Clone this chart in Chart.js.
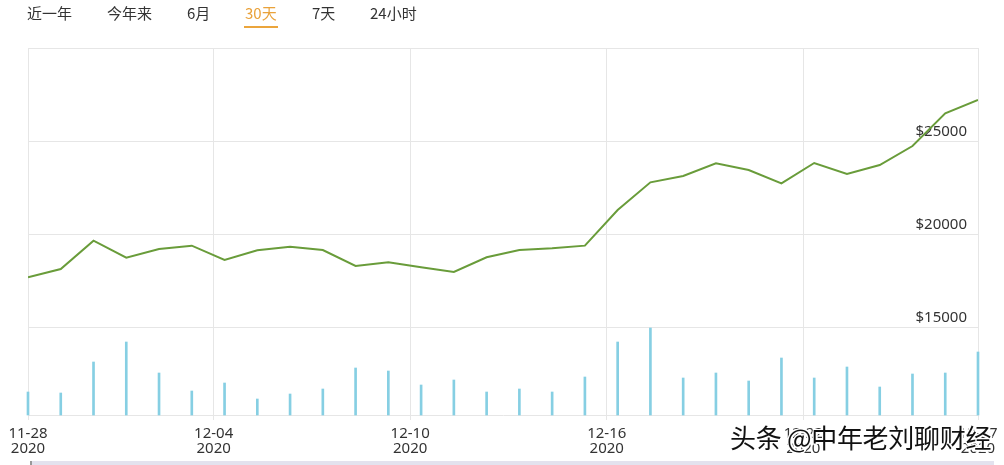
<!DOCTYPE html>
<html>
<head>
<meta charset="utf-8">
<script src="https://cdn.jsdelivr.net/npm/chart.js@4.4.1/dist/chart.umd.min.js"></script>
<style>
  html, body { margin: 0; padding: 0; background: #fff; }
  #wrap { position: relative; width: 1004px; height: 465px; overflow: hidden; font-family: "Noto Sans CJK SC", "Noto Sans", sans-serif; }
  canvas { position: absolute; left: 0; top: 0; }
  .tab { position: absolute; top: 3px; font-size: 15px; color: #333; line-height: 20px; white-space: nowrap; }
  .tab.active { color: #e9a23b; }
  #uline { position: absolute; left: 244px; top: 26px; width: 34px; height: 2px; background: #eba53c; }
  #scroll { position: absolute; left: 30px; top: 461px; width: 962px; height: 4px; background: #e3e2ee; border-left: 2px solid #999; }
  #wm { position: absolute; left: 730px; top: 423px; font-size: 26px; line-height: 28px; color: #111; white-space: nowrap; letter-spacing: -0.3px;
        text-shadow: -1px -1px 0 #fff, 1px -1px 0 #fff, -1px 1px 0 #fff, 1px 1px 0 #fff, 0 2px 0 #fff, 2px 0 0 #fff; }
</style>
</head>
<body>
<div id="wrap">
  <canvas id="c" width="1004" height="465"></canvas>
  <span class="tab" style="left:27px">近一年</span>
  <span class="tab" style="left:107px">今年来</span>
  <span class="tab" style="left:187px">6月</span>
  <span class="tab active" style="left:245px">30天</span>
  <span class="tab" style="left:312px">7天</span>
  <span class="tab" style="left:370px">24小时</span>
  <div id="uline"></div>
  <div id="scroll"></div>
  <div id="wm">头条 @中年老刘聊财经</div>
</div>
<script>
// ---- data ----
const dates = ['11-28','11-29','11-30','12-01','12-02','12-03','12-04','12-05','12-06','12-07',
               '12-08','12-09','12-10','12-11','12-12','12-13','12-14','12-15','12-16','12-17',
               '12-18','12-19','12-20','12-21','12-22','12-23','12-24','12-25','12-26','12-27'];
const prices = [17716, 18161, 19678, 18768, 19232, 19411, 18643, 19161, 19357, 19179,
                18321, 18518, 18250, 18000, 18786, 19179, 19268, 19411, 21321, 22804,
                23143, 23821, 23464, 22750, 23839, 23250, 23732, 24750, 26500, 27214];
const volumes = [11.5, 11, 26.5, 36.5, 21, 12, 16, 8, 10.5, 13,
                 23.5, 22, 15, 17.5, 11.5, 13, 11.5, 19, 36.5, 43.5,
                 18.5, 21, 17, 28.5, 18.5, 24, 14, 20.5, 21, 31.5];
const tickDates = ['11-28','12-04','12-10','12-16','12-22','12-27'];
const tickYear = '2020';
const priceTicks = [15000, 20000, 25000, 30000];
const dataHour = 8; // samples taken at 08:00, grid at midnight

const idxOf = d => dates.indexOf(d);
const lastIdx = dates.length - 1;
const tickPos = tickDates.map((d, i) => {
  if (i === 0) return 0;
  if (i === tickDates.length - 1) return lastIdx;
  return idxOf(d) - dataHour / 24;
});

const grid = '#e6e6e6';
Chart.defaults.font.family = '"Noto Sans", "Noto Sans CJK SC", sans-serif';
Chart.defaults.color = '#333';

new Chart(document.getElementById('c'), {
  data: {
    datasets: [
      {
        type: 'line',
        data: prices.map((p, i) => ({ x: i, y: p })),
        borderColor: '#699c3a',
        borderWidth: 2,
        pointRadius: 0,
        tension: 0,
        yAxisID: 'y',
        order: 1
      },
      {
        type: 'bar',
        data: volumes.map((v, i) => ({ x: i, y: v })),
        backgroundColor: '#86cfe3',
        barThickness: 2,
        clip: false,
        yAxisID: 'yv',
        order: 2
      }
    ]
  },
  options: {
    responsive: false,
    animation: false,
    devicePixelRatio: 1,
    layout: { padding: { left: 28, right: 26, top: 48, bottom: 0 } },
    plugins: { legend: { display: false }, tooltip: { enabled: false } },
    scales: {
      x: {
        type: 'linear',
        min: 0,
        max: lastIdx,
        offset: false,
        afterBuildTicks: s => { s.ticks = tickPos.map(v => ({ value: v })); },
        afterFit: s => { s.height = 50; },
        grid: { color: grid, tickLength: 5, tickColor: grid, offset: false },
        border: { color: grid },
        ticks: {
          autoSkip: false,
          maxRotation: 0,
          padding: 6,
          font: { size: 15, lineHeight: '15px' },
          color: '#333',
          callback: (v, i) => [tickDates[i], tickYear]
        }
      },
      y: {
        type: 'linear',
        position: 'right',
        min: 10339,
        max: 30000,
        afterBuildTicks: s => { s.ticks = priceTicks.map(v => ({ value: v })); },
        afterFit: s => { s.width = 0; },
        grid: { color: grid, drawTicks: false },
        border: { display: true, color: grid },
        ticks: {
          mirror: true,
          padding: -11,
          labelOffset: -10,
          font: { size: 15 },
          color: '#333',
          callback: v => v === 30000 ? '' : '$' + v
        }
      },
      yv: {
        type: 'linear',
        display: false,
        min: 0,
        max: 183.5
      }
    }
  }
});
</script>
</body>
</html>
